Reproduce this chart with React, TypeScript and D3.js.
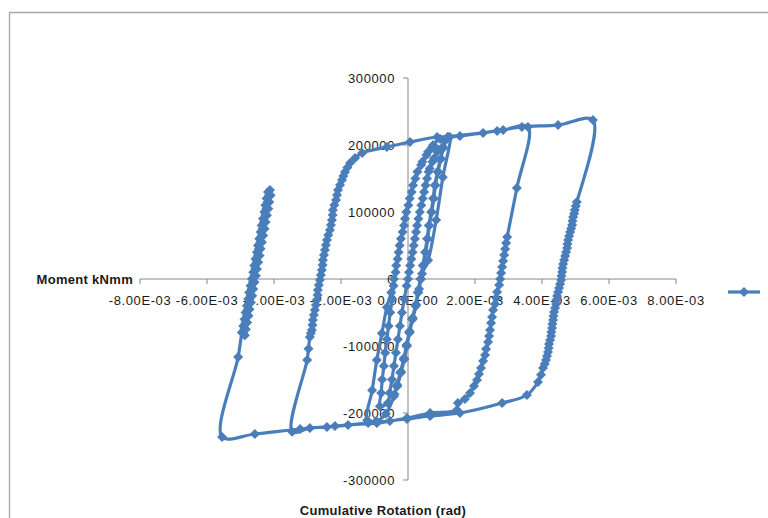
import React from "react";
import * as d3 from "d3";

// [rotation (rad), moment (kNmm)], in the order they were recorded
type Pt = [number, number];

const elasticCycles: Pt[] = [
  [0, 0], [0.000063, 20000], [0.000138, 40000], [0.000206, 60000], [0.000273, 80000],
  [0.000352, 100000], [0.00044, 120000], [0.000524, 140000], [0.000614, 160000],
  [0.00073, 175000], [0.00087, 190000],
  [0.00072, 197000], [0.00055, 185000], [0.00039, 170000], [0.00022, 150000], [0.00011, 130000],
  [0.00001, 110000], [-0.00009, 90000], [-0.00016, 70000], [-0.00025, 50000], [-0.00031, 30000],
  [-0.00037, 10000], [-0.00043, -10000], [-0.00047, -30000], [-0.00053, -50000], [-0.00058, -70000],
  [-0.00063, -90000], [-0.00068, -110000], [-0.00072, -130000], [-0.00077, -150000],
  [-0.0008, -170000], [-0.00084, -190000],
  [-0.0006, -185000], [-0.00055, -170000], [-0.00048, -150000], [-0.00042, -130000],
  [-0.00036, -110000], [-0.0003, -90000], [-0.00024, -70000], [-0.00018, -50000],
  [-0.00011, -30000], [-0.00004, -10000], [0.00003, 10000], [0.0001, 30000], [0.00017, 50000],
  [0.00024, 70000], [0.00031, 90000], [0.0004, 110000], [0.00048, 130000], [0.00057, 150000],
  [0.00065, 165000], [0.00077, 180000], [0.00091, 193000],
  [0.00104, 197000], [0.00096, 178000], [0.00088, 160000], [0.0008, 140000], [0.00075, 120000],
  [0.00069, 100000], [0.00062, 80000], [0.00057, 60000], [0.00051, 40000], [0.00044, 20000],
  [0.00037, 0], [0.00029, -20000], [0.00022, -40000], [0.00012, -60000], [0.00003, -80000],
  [-0.00005, -100000], [-0.00013, -120000], [-0.00023, -140000], [-0.00034, -160000],
  [-0.0004, -172000],
];

const cycle1: Pt[] = [
  [-0.00032, -160000], [-0.00021, -140000], [-0.00011, -120000], [-0.00003, -100000],
  [0.00005, -80000], [0.00014, -60000], [0.00024, -40000], [0.00031, -20000], [0.00039, 0],
  [0.00046, 20000], [0.00053, 40000], [0.00059, 60000], [0.00064, 80000], [0.00071, 100000],
  [0.00077, 120000], [0.00082, 140000], [0.0009, 160000], [0.00098, 180000], [0.00106, 196000],
  [0.0011, 206000], [0.00125, 212000],
  [0.00104, 152000], [0.00084, 88000], [0.0006, 28000],
  [0.00042, 8000], [0.00033, -15000], [0.00024, -38000], [0.00014, -58000], [0.00005, -78000],
  [-0.00004, -98000], [-0.00012, -118000], [-0.00021, -138000], [-0.00032, -158000],
  [-0.00042, -175000],
  [-0.00066, -201000], [-0.00095, -212000], [-0.00122, -211000],
  [-0.00107, -166000], [-0.00093, -121000], [-0.00078, -81000], [-0.00063, -42000],
  [-0.0005, -20000], [-0.00042, 0], [-0.00035, 20000], [-0.00028, 40000], [-0.00021, 60000],
  [-0.00012, 80000], [-0.00005, 100000], [0.00005, 120000], [0.00015, 140000], [0.00028, 160000],
  [0.00043, 175000], [0.0006, 190000], [0.00075, 200000],
  [0.00096, 209000],
];

const cycle2: Pt[] = [
  [0.00155, 213500], [0.00224, 218000], [0.00284, 222500], [0.00358, 227000],
  [0.00325, 136000], [0.00296, 62700],
  [0.00293, 53700], [0.0029, 44800], [0.00287, 35800], [0.00284, 26900], [0.00281, 17900],
  [0.00278, 9000], [0.00275, 0], [0.00272, -9000], [0.00266, -19400], [0.00263, -28400],
  [0.0026, -37300], [0.00254, -46300], [0.00251, -56700], [0.00248, -65700], [0.00245, -76100],
  [0.00242, -85100], [0.00239, -94000], [0.00233, -104500], [0.0023, -113400], [0.00224, -122400],
  [0.00218, -132800], [0.00212, -141800], [0.00206, -150700], [0.00197, -159700],
  [0.00185, -170100], [0.0017, -179100], [0.00149, -185100],
  [0.00146, -195500], [0.00066, -200000], [-0.00003, -207500], [-0.00054, -212000],
  [-0.00093, -215000], [-0.00179, -218000], [-0.00242, -221000], [-0.00293, -222500],
  [-0.00346, -228000],
  [-0.00301, -121000], [-0.00297, -104000], [-0.00293, -86600], [-0.0029, -81000],
  [-0.00287, -76100], [-0.00285, -68700], [-0.00284, -61200], [-0.00281, -53700],
  [-0.00278, -46300], [-0.00275, -38800], [-0.00272, -31300], [-0.0027, -23900],
  [-0.00269, -16400], [-0.00266, -9000], [-0.00263, -1500], [-0.0026, 6000], [-0.00257, 13400],
  [-0.00255, 20900], [-0.00254, 28400], [-0.00251, 35800], [-0.00248, 43300], [-0.00245, 50700],
  [-0.00242, 58200], [-0.00238, 65700], [-0.00233, 73100], [-0.0023, 80600], [-0.00227, 88100],
  [-0.00225, 95500], [-0.00224, 103000], [-0.0022, 110500], [-0.00215, 117900],
  [-0.00212, 125400], [-0.00209, 132800], [-0.00203, 140300], [-0.00197, 147800],
  [-0.00193, 153700], [-0.00188, 159700], [-0.00181, 166400], [-0.00173, 173100],
  [-0.00158, 180600], [-0.00137, 188100], [-0.00063, 197000], [0.00006, 204500],
  [0.00087, 211900], [0.00119, 212500],
];

const cycle3: Pt[] = [
  [0.00266, 221000], [0.0034, 227000], [0.00448, 229800], [0.00552, 237300],
  [0.00504, 114900], [0.00501, 109000], [0.00498, 103000], [0.00496, 97700], [0.00493, 92500],
  [0.00491, 86500], [0.0049, 80600], [0.00487, 75300], [0.00484, 70100], [0.00481, 64100],
  [0.00478, 58200], [0.00476, 52200], [0.00475, 46300], [0.00472, 40300], [0.00469, 34300],
  [0.00466, 28400], [0.00463, 22400], [0.00461, 16400], [0.0046, 10400], [0.00458, 4500],
  [0.00457, -1500], [0.00454, -7500], [0.00451, -13400], [0.00448, -19400], [0.00445, -25400],
  [0.00443, -31300], [0.00442, -37300], [0.00439, -43300], [0.00436, -49300], [0.00434, -55200],
  [0.00433, -61200], [0.00431, -67200], [0.0043, -73100], [0.00428, -79100], [0.00427, -85100],
  [0.00424, -91000], [0.00421, -97000], [0.0042, -103000], [0.00418, -109000],
  [0.00415, -115000], [0.00412, -120900], [0.00408, -126900], [0.00403, -132800],
  [0.00397, -143000], [0.00388, -153700], [0.00355, -173100], [0.00281, -185100],
  [0.00155, -200000], [0.00066, -204500], [-0.00003, -209000], [-0.00119, -215000],
  [-0.00218, -219400], [-0.00322, -223900], [-0.00457, -231300], [-0.00555, -235800],
];

const finalCycles: Pt[] = [
  [-0.00507, -116400],
  [-0.00496, -80000], [-0.00492, -70000], [-0.00488, -60000], [-0.00485, -50000],
  [-0.00481, -40000], [-0.00477, -30000], [-0.00474, -20000], [-0.0047, -10000], [-0.00466, 0],
  [-0.00462, 10000], [-0.00459, 20000], [-0.00455, 30000], [-0.00451, 40000], [-0.00448, 50000],
  [-0.00444, 60000], [-0.0044, 70000], [-0.00437, 80000], [-0.00433, 90000], [-0.00429, 100000],
  [-0.00426, 110000], [-0.00422, 120000], [-0.00418, 130000],
  [-0.0041, 125000], [-0.00414, 115000], [-0.00417, 105000], [-0.00421, 95000],
  [-0.00425, 85000], [-0.00428, 75000], [-0.00432, 65000], [-0.00436, 55000], [-0.0044, 45000],
  [-0.00443, 35000], [-0.00447, 25000], [-0.00451, 15000], [-0.00454, 5000], [-0.00458, -5000],
  [-0.00462, -15000], [-0.00465, -25000], [-0.00469, -35000], [-0.00473, -45000],
  [-0.00476, -55000], [-0.0048, -65000], [-0.00484, -75000], [-0.00487, -84000],
  [-0.00489, -75000], [-0.00485, -65000], [-0.00481, -55000], [-0.00478, -45000],
  [-0.00474, -35000], [-0.0047, -25000], [-0.00467, -15000], [-0.00463, -5000],
  [-0.00459, 5000], [-0.00456, 15000], [-0.00452, 25000], [-0.00448, 35000], [-0.00445, 45000],
  [-0.00441, 55000], [-0.00437, 65000], [-0.00434, 75000], [-0.0043, 85000], [-0.00426, 95000],
  [-0.00423, 105000], [-0.00419, 115000], [-0.00415, 125000], [-0.00412, 133000],
];

const xTickValues = [-0.008, -0.006, -0.004, -0.002, 0, 0.002, 0.004, 0.006, 0.008];
const xTickLabels = [
  "-8.00E-03", "-6.00E-03", "-4.00E-03", "-2.00E-03", "0.00E+00",
  "2.00E-03", "4.00E-03", "6.00E-03", "8.00E-03",
];
const yTickValues = [-300000, -200000, -100000, 0, 100000, 200000, 300000];
const yTickLabels = ["-300000", "-200000", "-100000", "0", "100000", "200000", "300000"];

const series: Pt[] = [...elasticCycles, ...cycle1, ...cycle2, ...cycle3, ...finalCycles];

const W = 768;
const H = 518;
const plot = { left: 140, right: 676, top: 78, bottom: 480 };
const BLUE = "#4a7ebb";
const AXIS = "#868686";
const FONT = "'Liberation Sans', Arial, sans-serif";

const diamond = (r: number) => `M0,${-r}L${r},0L0,${r}L${-r},0Z`;

export default function App() {
  const x = d3.scaleLinear().domain([-0.008, 0.008]).range([plot.left, plot.right]);
  const y = d3.scaleLinear().domain([-300000, 300000]).range([plot.bottom, plot.top]);
  const line = d3
    .line<Pt>()
    .x(d => x(d[0]))
    .y(d => y(d[1]))
    .curve(d3.curveCatmullRom.alpha(0.5));

  const x0 = x(0);
  const y0 = y(0);

  return (
    <svg
      width={W}
      height={H}
      style={{ position: "absolute", left: 0, top: 0, background: "#fff" }}
      fontFamily={FONT}
    >
      <rect width={W} height={H} fill="#fff" />
      <path d={`M9.5,${H}V12.5H${W}`} fill="none" stroke="#a6a6a6" strokeWidth={1.3} />

      {/* x axis */}
      <line x1={plot.left} x2={plot.right} y1={y0} y2={y0} stroke={AXIS} />
      {xTickValues.map((v, i) => (
        <g key={`xt${i}`}>
          <line x1={x(v)} x2={x(v)} y1={y0} y2={y0 + 5} stroke={AXIS} />
          <text
            x={x(v)}
            y={y0 + 26}
            fontSize={13}
            letterSpacing={0.6}
            textAnchor="middle"
            fill="#1a1a1a"
          >
            {xTickLabels[i]}
          </text>
        </g>
      ))}

      {/* y axis */}
      <line x1={x0} x2={x0} y1={plot.top} y2={plot.bottom} stroke={AXIS} />
      {yTickValues.map((v, i) => (
        <g key={`yt${i}`}>
          <line x1={x0 - 5} x2={x0} y1={y(v)} y2={y(v)} stroke={AXIS} />
          <text
            x={x0 - 13}
            y={y(v) + 4.5}
            fontSize={13}
            letterSpacing={0.6}
            textAnchor="end"
            fill="#1a1a1a"
          >
            {yTickLabels[i]}
          </text>
        </g>
      ))}

      <text x={133} y={y0 + 5} fontSize={13} fontWeight="bold" letterSpacing={0.3} textAnchor="end" fill="#1a1a1a">
        Moment kNmm
      </text>
      <text x={383} y={515} fontSize={13} fontWeight="bold" letterSpacing={0.3} textAnchor="middle" fill="#1a1a1a">
        Cumulative Rotation (rad)
      </text>

      {/* series */}
      <path d={line(series) || ""} fill="none" stroke={BLUE} strokeWidth={3.2} strokeLinejoin="round" />
      {series.map((d, i) => (
        <path key={i} d={diamond(5)} transform={`translate(${x(d[0])},${y(d[1])})`} fill={BLUE} />
      ))}

      {/* legend */}
      <line x1={728} x2={760} y1={292} y2={292} stroke={BLUE} strokeWidth={3.2} />
      <path d={diamond(5)} transform="translate(744,292)" fill={BLUE} />
    </svg>
  );
}
